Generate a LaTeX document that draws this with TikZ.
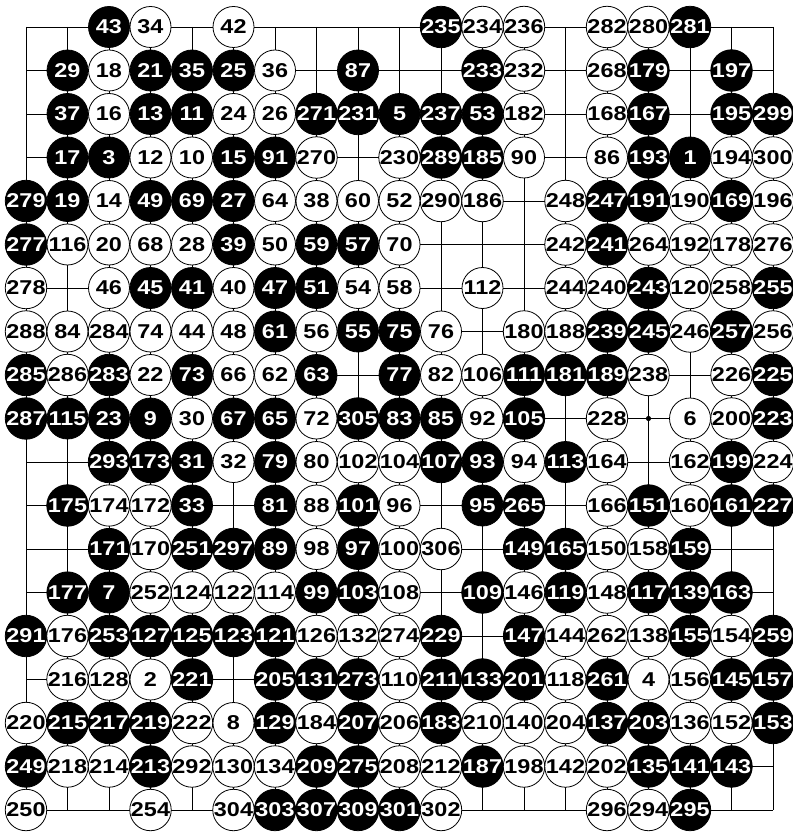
\documentclass[tikz,border=0pt]{standalone}
\usepackage{fontspec}
\newfontfamily\stonefont{Liberation Sans}[FakeStretch=1.17]
\begin{document}
\begin{tikzpicture}[x=1pt,y=-1pt,
  gridline/.style={line width=0.9pt,black},
  stonebase/.style={circle,draw=black,line width=0.8pt,minimum size=41pt,inner sep=0pt,
    font=\stonefont\bfseries\fontsize{20}{20}\selectfont},
  bstone/.style={stonebase,fill=black,text=white},
  wstone/.style={stonebase,fill=white,text=black}]
\useasboundingbox (0,0) rectangle (792,834);
\foreach \i in {0,...,18} {
  \draw[gridline] ({26+41.5*\i},27) -- ({26+41.5*\i},810);
  \draw[gridline] (26,{27+43.5*\i}) -- (773,{27+43.5*\i});
}
\foreach \a in {3,9,15} \foreach \b in {3,9,15}
  \fill ({26+41.5*\a},{27+43.5*\b}) circle (2.6pt);
% black stones
\foreach \c/\r/\n in {
2/0/43, 10/0/235, 16/0/281,
1/1/29, 3/1/21, 4/1/35, 5/1/25, 8/1/87, 11/1/233, 15/1/179, 17/1/197,
1/2/37, 3/2/13, 4/2/11, 7/2/271, 8/2/231, 9/2/5, 10/2/237, 11/2/53, 15/2/167, 17/2/195, 18/2/299,
1/3/17, 2/3/3, 5/3/15, 6/3/91, 10/3/289, 11/3/185, 15/3/193, 16/3/1,
0/4/279, 1/4/19, 3/4/49, 4/4/69, 5/4/27, 14/4/247, 15/4/191, 17/4/169,
0/5/277, 5/5/39, 7/5/59, 8/5/57, 14/5/241,
3/6/45, 4/6/41, 6/6/47, 7/6/51, 15/6/243, 18/6/255,
6/7/61, 8/7/55, 9/7/75, 14/7/239, 15/7/245, 17/7/257,
0/8/285, 2/8/283, 4/8/73, 7/8/63, 9/8/77, 12/8/111, 13/8/181, 14/8/189, 18/8/225,
0/9/287, 1/9/115, 2/9/23, 3/9/9, 5/9/67, 6/9/65, 8/9/305, 9/9/83, 10/9/85, 12/9/105, 18/9/223,
2/10/293, 3/10/173, 4/10/31, 6/10/79, 10/10/107, 11/10/93, 13/10/113, 17/10/199,
1/11/175, 4/11/33, 6/11/81, 8/11/101, 11/11/95, 12/11/265, 15/11/151, 17/11/161, 18/11/227,
2/12/171, 4/12/251, 5/12/297, 6/12/89, 8/12/97, 12/12/149, 13/12/165, 16/12/159,
1/13/177, 2/13/7, 7/13/99, 8/13/103, 11/13/109, 13/13/119, 15/13/117, 16/13/139, 17/13/163,
0/14/291, 2/14/253, 3/14/127, 4/14/125, 5/14/123, 6/14/121, 10/14/229, 12/14/147, 16/14/155, 18/14/259,
4/15/221, 6/15/205, 7/15/131, 8/15/273, 10/15/211, 11/15/133, 12/15/201, 14/15/261, 17/15/145, 18/15/157,
1/16/215, 2/16/217, 3/16/219, 6/16/129, 8/16/207, 10/16/183, 14/16/137, 15/16/203, 18/16/153,
0/17/249, 3/17/213, 7/17/209, 8/17/275, 11/17/187, 15/17/135, 16/17/141, 17/17/143,
6/18/303, 7/18/307, 8/18/309, 9/18/301, 16/18/295}
  \node[bstone] (s\n) at ({26+41.5*\c},{27+43.5*\r}) {\n};
% white stones
\foreach \c/\r/\n in {
3/0/34, 5/0/42, 11/0/234, 12/0/236, 14/0/282, 15/0/280,
2/1/18, 6/1/36, 12/1/232, 14/1/268,
2/2/16, 5/2/24, 6/2/26, 12/2/182, 14/2/168,
3/3/12, 4/3/10, 7/3/270, 9/3/230, 12/3/90, 14/3/86, 17/3/194, 18/3/300,
2/4/14, 6/4/64, 7/4/38, 8/4/60, 9/4/52, 10/4/290, 11/4/186, 13/4/248, 16/4/190, 18/4/196,
1/5/116, 2/5/20, 3/5/68, 4/5/28, 6/5/50, 9/5/70, 13/5/242, 15/5/264, 16/5/192, 17/5/178, 18/5/276,
0/6/278, 2/6/46, 5/6/40, 8/6/54, 9/6/58, 11/6/112, 13/6/244, 14/6/240, 16/6/120, 17/6/258,
0/7/288, 1/7/84, 2/7/284, 3/7/74, 4/7/44, 5/7/48, 7/7/56, 10/7/76, 12/7/180, 13/7/188, 16/7/246, 18/7/256,
1/8/286, 3/8/22, 5/8/66, 6/8/62, 10/8/82, 11/8/106, 15/8/238, 17/8/226,
4/9/30, 7/9/72, 11/9/92, 14/9/228, 16/9/6, 17/9/200,
5/10/32, 7/10/80, 8/10/102, 9/10/104, 12/10/94, 14/10/164, 16/10/162, 18/10/224,
2/11/174, 3/11/172, 7/11/88, 9/11/96, 14/11/166, 16/11/160,
3/12/170, 7/12/98, 9/12/100, 10/12/306, 14/12/150, 15/12/158,
3/13/252, 4/13/124, 5/13/122, 6/13/114, 9/13/108, 12/13/146, 14/13/148,
1/14/176, 7/14/126, 8/14/132, 9/14/274, 13/14/144, 14/14/262, 15/14/138, 17/14/154,
1/15/216, 2/15/128, 3/15/2, 9/15/110, 13/15/118, 15/15/4, 16/15/156,
0/16/220, 4/16/222, 5/16/8, 7/16/184, 9/16/206, 11/16/210, 12/16/140, 13/16/204, 16/16/136, 17/16/152,
1/17/218, 2/17/214, 4/17/292, 5/17/130, 6/17/134, 9/17/208, 10/17/212, 12/17/198, 13/17/142, 14/17/202,
0/18/250, 3/18/254, 5/18/304, 10/18/302, 14/18/296, 15/18/294}
  \node[wstone] (s\n) at ({26+41.5*\c},{27+43.5*\r}) {\n};
\end{tikzpicture}
\end{document}
